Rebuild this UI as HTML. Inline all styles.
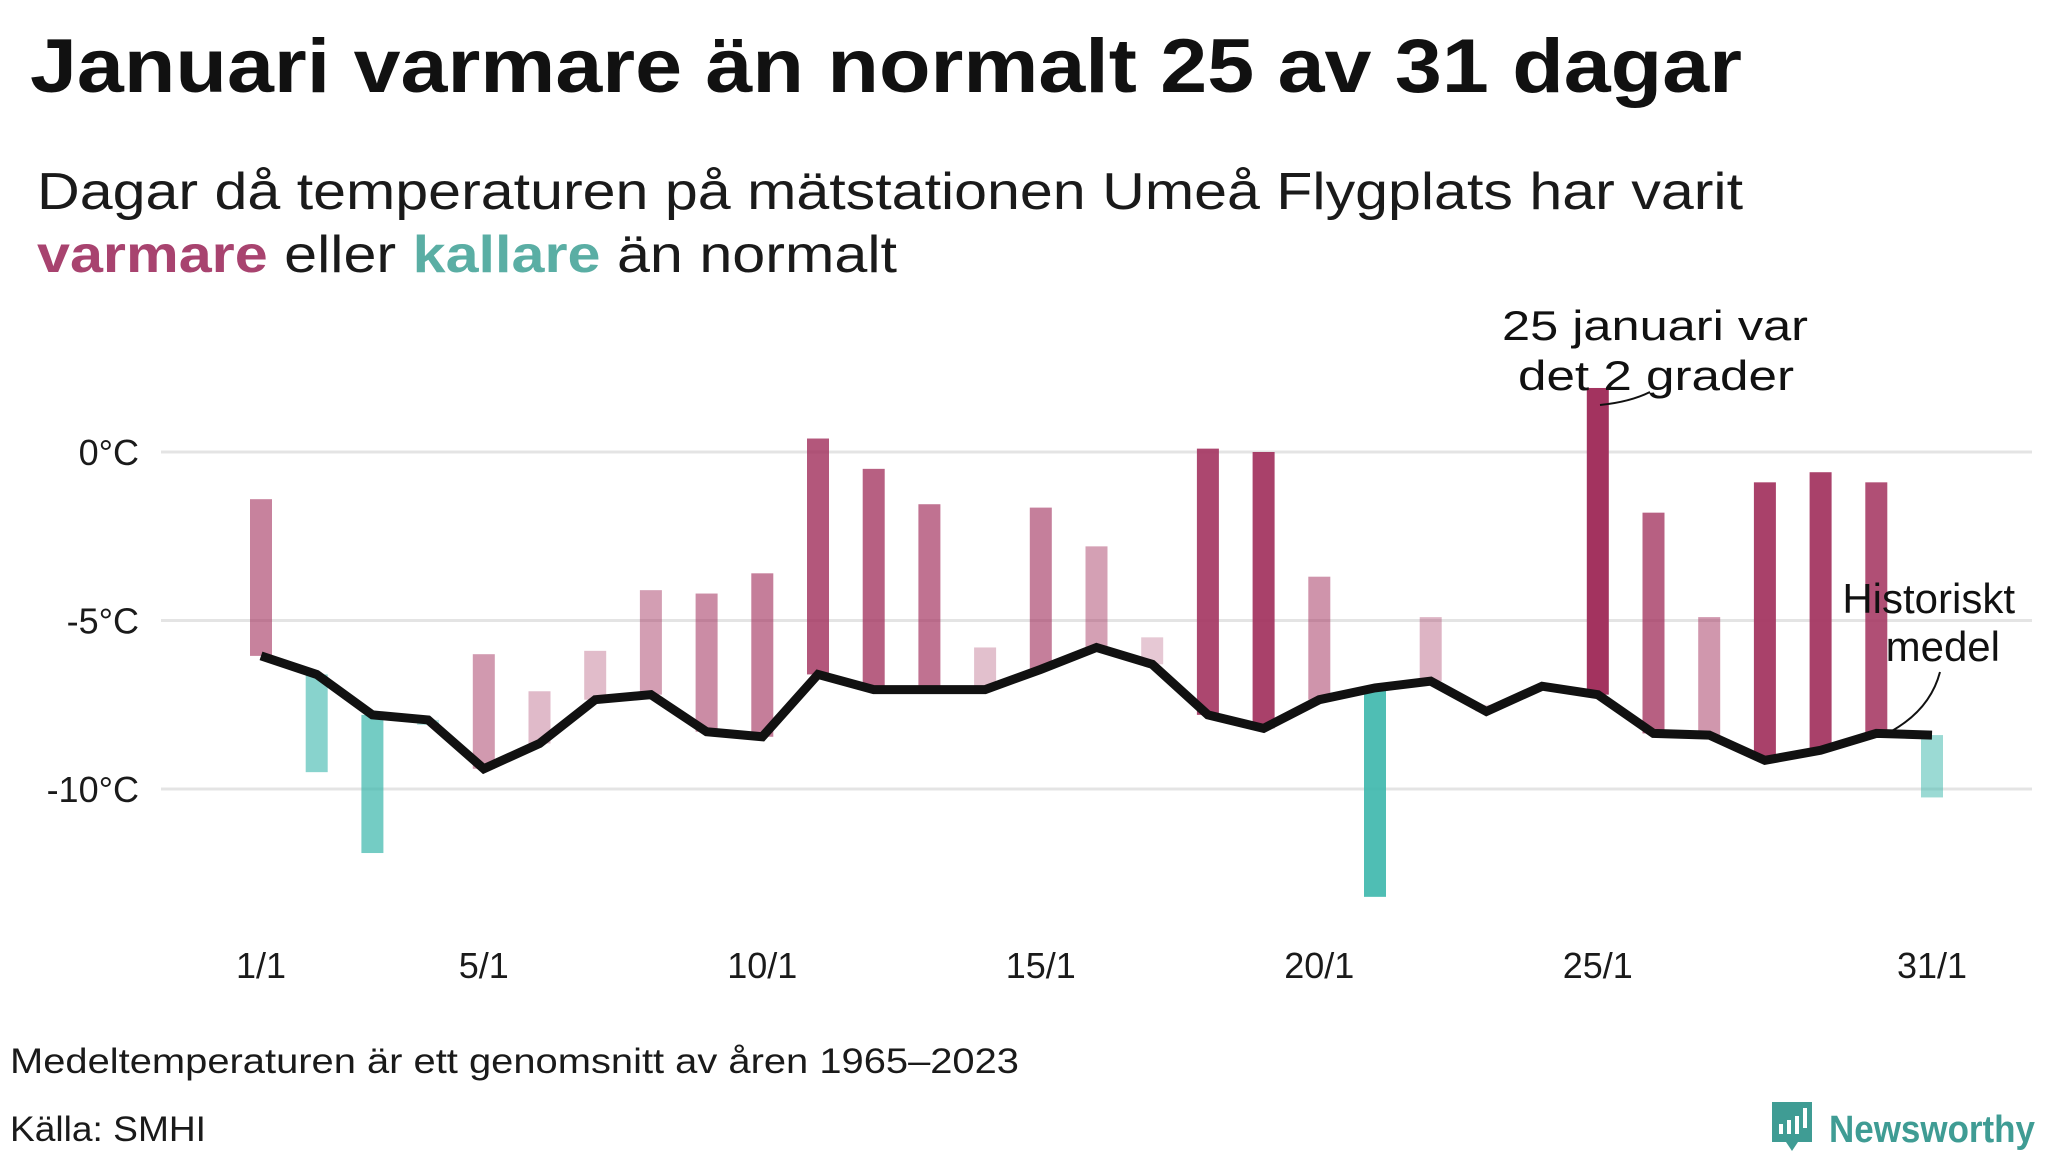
<!DOCTYPE html>
<html><head><meta charset="utf-8"><style>
body{margin:0;background:#fff}
svg{display:block;font-family:"Liberation Sans","DejaVu Sans",sans-serif}
</style></head><body>
<svg id="c" width="2048" height="1152" viewBox="0 0 2048 1152">
<text x="30" y="92" font-size="76" font-weight="bold" fill="#111" textLength="1712" lengthAdjust="spacingAndGlyphs">Januari varmare än normalt 25 av 31 dagar</text>
<text x="37" y="209" font-size="52" fill="#1a1a1a" textLength="1706" lengthAdjust="spacingAndGlyphs">Dagar då temperaturen på mätstationen Umeå Flygplats har varit</text>
<text x="37" y="272" font-size="52" fill="#1a1a1a" textLength="860" lengthAdjust="spacingAndGlyphs"><tspan font-weight="bold" fill="#a8436f">varmare</tspan> eller <tspan font-weight="bold" fill="#5aaea4">kallare</tspan> än normalt</text>
<g id="grid"></g><g id="bars"></g><g id="line"></g><g id="xl"></g>
<text x="1502" y="340" font-size="42" fill="#111" textLength="306" lengthAdjust="spacingAndGlyphs">25 januari var</text>
<text x="1518" y="390" font-size="42" fill="#111" textLength="276" lengthAdjust="spacingAndGlyphs">det 2 grader</text>
<path d="M1600,405 Q1630,402 1650,392" stroke="#111" stroke-width="2" fill="none"/>
<text x="2015" y="613" font-size="42" text-anchor="end" fill="#111">Historiskt</text>
<text x="2000" y="661" font-size="42" text-anchor="end" fill="#111">medel</text>
<path d="M1890,732 Q1930,710 1940,672" stroke="#111" stroke-width="2" fill="none"/>
<text x="10" y="1073" font-size="35" fill="#1a1a1a" textLength="1009" lengthAdjust="spacingAndGlyphs">Medeltemperaturen är ett genomsnitt av åren 1965–2023</text>
<text x="10" y="1141" font-size="35" fill="#1a1a1a" textLength="196" lengthAdjust="spacingAndGlyphs">Källa: SMHI</text>
<g>
<path d="M1772,1102 h40 v40 h-14 l-6,9 l-6,-9 h-14 z" fill="#3f9c94"/>
<rect x="1779" y="1124" width="4" height="10" fill="#fff"/><rect x="1787" y="1120" width="4" height="14" fill="#fff"/><rect x="1795" y="1116" width="4" height="18" fill="#fff"/><rect x="1803" y="1108" width="4" height="20" fill="#fff"/>
<text x="1829" y="1142" font-size="38" font-weight="bold" fill="#3f9c94" textLength="206" lengthAdjust="spacingAndGlyphs">Newsworthy</text>
</g>
</svg>
<script>
const days=["1/1","2/1","3/1","4/1","5/1","6/1","7/1","8/1","9/1","10/1","11/1","12/1","13/1","14/1","15/1","16/1","17/1","18/1","19/1","20/1","21/1","22/1","23/1","24/1","25/1","26/1","27/1","28/1","29/1","30/1","31/1"];
const actual=[-1.4,-9.5,-11.9,-8.1,-6.0,-7.1,-5.9,-4.1,-4.2,-3.6,0.4,-0.5,-1.55,-5.8,-1.65,-2.8,-5.5,0.1,0.0,-3.7,-13.2,-4.9,-7.5,-7.05,1.9,-1.8,-4.9,-0.9,-0.6,-0.9,-10.25];
const normal=[-6.05,-6.6,-7.8,-7.95,-9.4,-8.65,-7.35,-7.2,-8.3,-8.45,-6.6,-7.05,-7.05,-7.05,-6.45,-5.8,-6.3,-7.8,-8.2,-7.35,-7.0,-6.8,-7.7,-6.95,-7.2,-8.35,-8.4,-9.15,-8.85,-8.35,-8.4];
const yTicks=[0,-5,-10];
const xTickLabels=["1/1","5/1","10/1","15/1","20/1","25/1","31/1"];
const NS="http://www.w3.org/2000/svg";
const X=i=>261+i*55.7, Y=v=>452-v*33.7;
function mk(t,a,p){const e=document.createElementNS(NS,t);for(const k in a)e.setAttribute(k,a[k]);document.getElementById(p).appendChild(e);return e;}
yTicks.forEach(v=>{
 const l=mk('line',{x1:161,x2:2032,y1:Y(v),y2:Y(v),stroke:'#e4e4e4','stroke-width':3},'grid');
 
 
 const t=mk('text',{x:139,y:Y(v)+13,'font-size':36,'text-anchor':'end',fill:'#1a1a1a'},'grid');
 t.textContent=v+'°C';
 
 
});
actual.forEach((a,i)=>{
 const n=normal[i],d=a-n;
 if(Math.abs(d)<0.05)return;
 const op=Math.min(0.2+0.8*Math.abs(d)/9,1);
 const r=mk('rect',{x:X(i)-11,width:22,y:Y(Math.max(a,n)),height:Math.abs(Y(a)-Y(n)),fill:d>0?'#a3335f':'#3cb7ac','fill-opacity':d>0?op:Math.min(op+0.15,1)},'bars');
 
 
});
const pl=mk('polyline',{points:normal.map((v,i)=>X(i)+','+Y(v)).join(' '),fill:'none',stroke:'#111',"stroke-width":9,"stroke-linejoin":"miter"},'line');


xTickLabels.forEach(s=>{
 const i=days.indexOf(s);
 const t=mk('text',{x:X(i),y:978,'font-size':36,'text-anchor':'middle',fill:'#1a1a1a'},'xl');
 t.textContent=s;
 
 
});
</script>
</body></html>
